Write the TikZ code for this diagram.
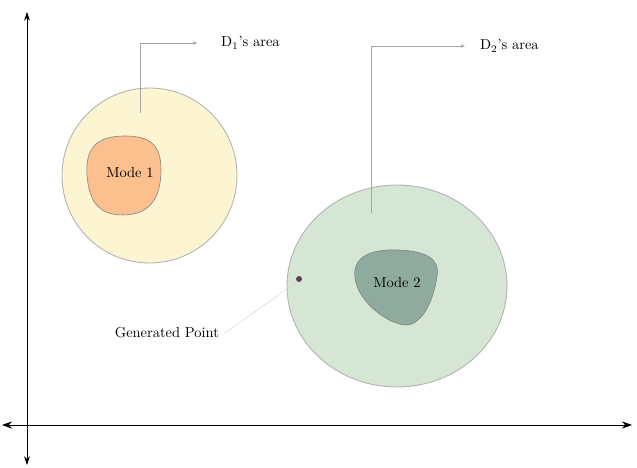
\documentclass[tikz,border=0pt]{standalone}
\usetikzlibrary{arrows.meta}

\definecolor{areaone}{HTML}{FDF4D1}
\definecolor{modeone}{HTML}{FCC08E}
\definecolor{areatwo}{HTML}{D5E6D4}
\definecolor{modetwo}{HTML}{8FAB9E}
\definecolor{genpt}{HTML}{5E3A55}

\tikzset{
    area/.style={draw=gray!60, line width=0.6pt},
    mode/.style={draw=black!50, line width=0.4pt},
    pointer/.style={draw=gray!70, line width=0.3pt, -{Stealth[length=3pt, width=2.5pt]}},
    axis/.style={line width=0.6pt, {Stealth[length=7pt, width=5pt]}-{Stealth[length=7pt, width=5pt]}}
}

\begin{document}
\begin{tikzpicture}[x=0.0243cm, y=-0.0243cm]
    \useasboundingbox (0, 0) rectangle (637, 468);

    \coordinate (Y1) at ( 27,  12);
    \coordinate (Y2) at ( 27, 465);
    \coordinate (X1) at (  2, 425);
    \coordinate (X2) at (632, 425);
    \coordinate (C1) at (149.5, 175.5);
    \coordinate (C2) at (397, 286);

    % areas
    \filldraw [area, fill=areaone] (C1) circle (87.5);
    \filldraw [area, fill=areatwo] (C2) ellipse (110 and 101);

    % modes
    \filldraw [mode, fill=modeone] (87, 175) .. controls (85, 145) and (100, 136) .. (125, 136)
        .. controls (150, 136) and (161, 145) .. (161, 170)
        .. controls (161, 200) and (148, 215) .. (123, 215)
        .. controls (100, 215) and (89, 203) .. cycle;
    \filldraw [mode, fill=modetwo] (355, 278) .. controls (352, 256) and (372, 249) .. (398, 250)
        .. controls (425, 251) and (440, 258) .. (437, 276)
        .. controls (434, 300) and (422, 325) .. (406, 325)
        .. controls (390, 325) and (358, 303) .. cycle;

    \node (M1) at (130, 173) {Mode 1};
    \node (M2) at (397, 283) {Mode 2};

    % labels of the areas
    \node[anchor=west] (L1) at (216, 43) {D$_1$'s area};
    \node[anchor=west] (L2) at (475, 46) {D$_2$'s area};
    \coordinate (A1) at (140, 113);
    \coordinate (A2) at (371, 213);
    \draw [pointer] (A1) |- ([xshift=-13pt]L1.west);
    \draw [pointer] (A2) |- ([xshift=-7pt]L2.west);

    % generated point
    \filldraw [genpt] (299, 279) circle (2.6) coordinate (P);
    \node[anchor=east] (G) at (224, 333) {Generated Point};
    \draw [gray!35, line width=0.3pt] ([shift={(-4,4)}]P) -- (228, 331) -- (G.east);

    % axes
    \draw [axis] (X1) -- (X2);
    \draw [line width=0.5pt, {Stealth[length=6pt, width=4pt]}-{Stealth[length=6pt, width=4pt]}] (Y1) -- (Y2);
\end{tikzpicture}
\end{document}
